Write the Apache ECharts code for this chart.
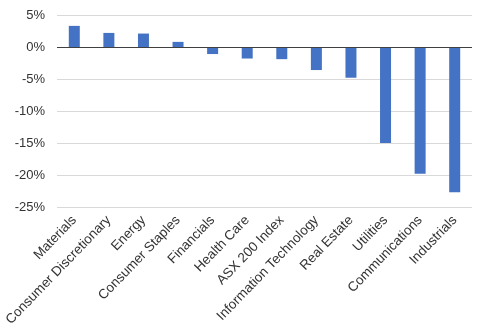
<!DOCTYPE html>
<html><head><meta charset="utf-8">
<script src="https://cdn.jsdelivr.net/npm/echarts@6/dist/echarts.min.js"></script>
<style>html,body{margin:0;padding:0;background:#fff}#c{width:477px;height:336px}</style>
</head><body><div id="c"></div>
<script>
const categories = ["Materials","Consumer Discretionary","Energy","Consumer Staples","Financials","Health Care","ASX 200 Index","Information Technology","Real Estate","Utilities","Communications","Industrials"];
const values = [3.3, 2.2, 2.1, 0.8, -1.1, -1.8, -1.9, -3.6, -4.8, -15.0, -19.8, -22.7];
const yMin = -25, yMax = 5, yStep = 5;

const chart = echarts.init(document.getElementById('c'), null, {renderer:'canvas'});
chart.setOption({
  animation: false,
  grid: {left: 57, right: 5, top: 15, bottom: 129, containLabel: false},
  xAxis: {
    type: 'category', data: categories,
    axisLine: {show: false}, axisTick: {show: false},
    axisLabel: {rotate: 46, interval: 0, margin: 11, color: '#333333', fontFamily: 'Liberation Sans, Arial', fontSize: 13.5}
  },
  yAxis: {
    type: 'value', min: yMin, max: yMax, interval: yStep,
    axisLine: {show: false}, axisTick: {show: false},
    axisLabel: {formatter: '{value}%', color: '#333333', fontFamily: 'Liberation Sans, Arial', fontSize: 13, margin: 12},
    splitLine: {lineStyle: {color: '#d9d9d9', width: 1.2}}
  },
  series: [{
    type: 'bar', data: values, barWidth: 11,
    itemStyle: {color: '#4472C4'},
    markLine: {silent: true, symbol: 'none', label: {show: false},
      lineStyle: {color: '#404040', width: 1.2, type: 'solid'},
      data: [{yAxis: 0}]}
  }]
});
</script></body></html>
